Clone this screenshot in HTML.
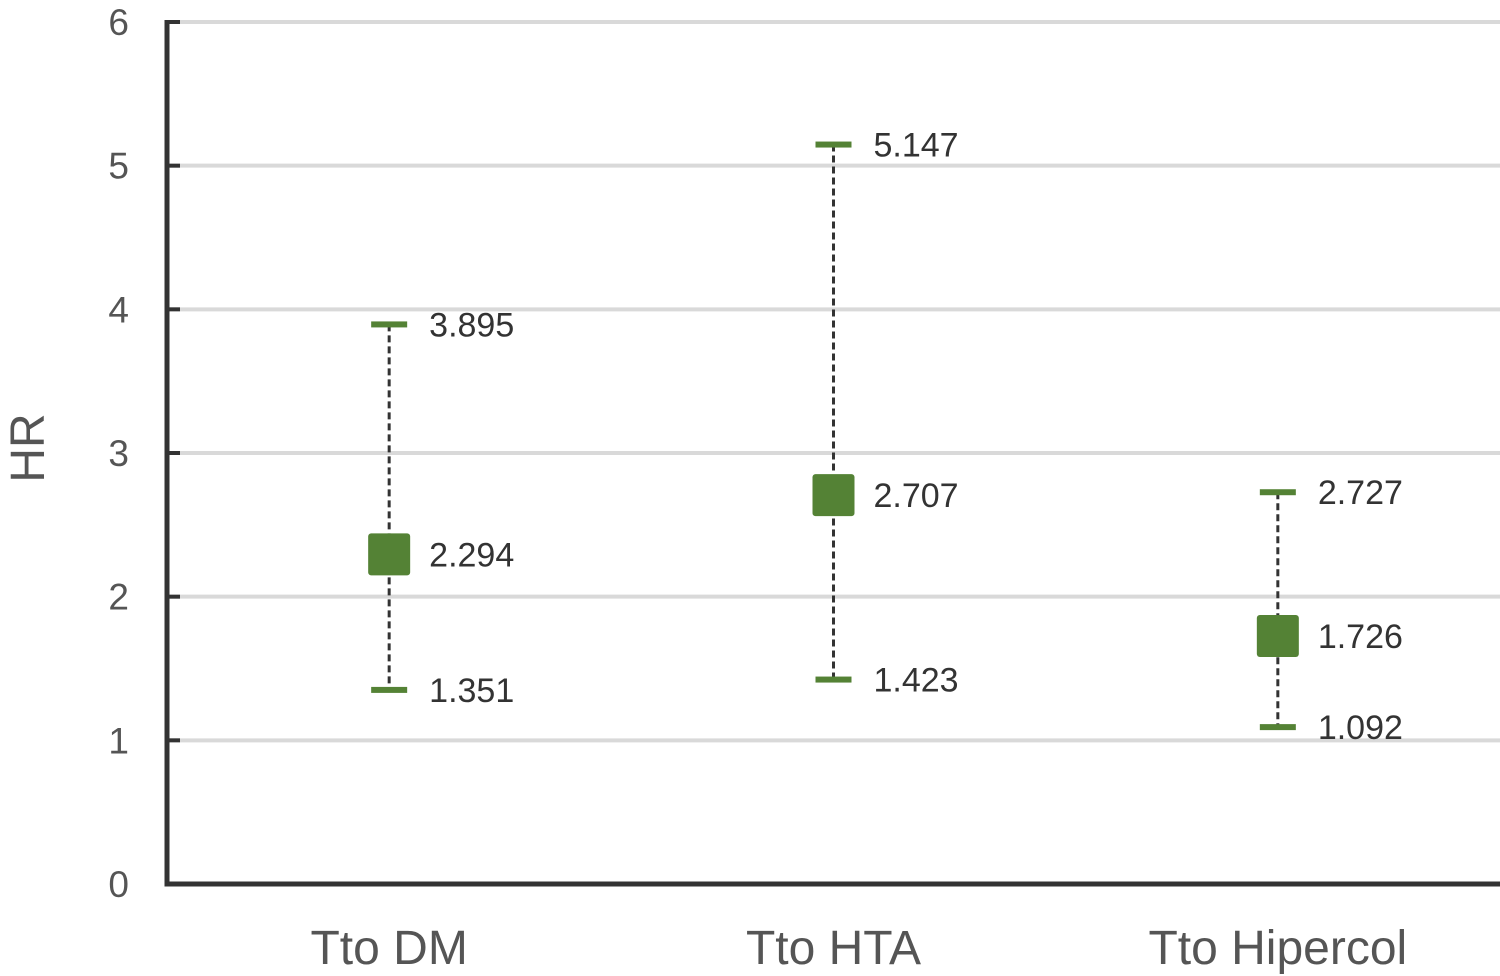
<!DOCTYPE html>
<html><head><meta charset="utf-8"><style>
body{margin:0;background:#fff;}
svg{display:block;font-family:"Liberation Sans",sans-serif;}
</style></head><body>
<svg id="chart" width="1500" height="976"></svg>
<script>
const categories=["Tto DM","Tto HTA","Tto Hipercol"];
const hrValues=[2.294,2.707,1.726];
const lowerCI=[1.351,1.423,1.092];
const upperCI=[3.895,5.147,2.727];
const yTicks=[0,1,2,3,4,5,6];
const NS="http://www.w3.org/2000/svg";
const svg=document.getElementById('chart');
const x0=167,x1=1500,yBot=884,yTop=22,yMax=6;
const y=v=>yBot-(v/yMax)*(yBot-yTop);
const bw=(x1-x0)/categories.length;
const xc=i=>x0+bw*(i+0.5);
function el(t,a,txt){const e=document.createElementNS(NS,t);for(const k in a)e.setAttribute(k,a[k]);if(txt!=null)e.textContent=txt;svg.appendChild(e);return e;}
yTicks.forEach(t=>{
  if(t>0){const g=el('line',{x1:x0,x2:x1,y1:y(t),y2:y(t),stroke:'#d9d9d9','stroke-width':4});
  
  }
  const tk=el('line',{x1:x0,x2:x0+13,y1:y(t),y2:y(t),stroke:'#333','stroke-width':4});
  
  
  const l=el('text',{x:129,y:y(t)+13,'text-anchor':'end','font-size':37,fill:'#555'},t);
  
  
});
const ax=el('path',{d:`M${x0},${yTop-2} V${yBot} H${x1}`,fill:'none',stroke:'#333','stroke-width':5});


const yt=el('text',{x:0,y:0,transform:'translate(44,448) rotate(-90)','text-anchor':'middle','font-size':48,fill:'#555'},'HR');


categories.forEach((c,i)=>{
  const cx=xc(i);
  const d=el('line',{x1:cx,x2:cx,y1:y(upperCI[i]),y2:y(lowerCI[i]),stroke:'#333','stroke-width':3,'stroke-dasharray':'7,4'});
  
  
  [upperCI[i],lowerCI[i]].forEach((v,j)=>{
    const cap=el('rect',{x:cx-18,y:y(v)-3,width:36,height:6,fill:'#548235'});
    
    
    const t=el('text',{x:cx+40,y:y(v)+12,'font-size':34,fill:'#333'},v.toFixed(3));
    
    
  });
  const m=el('rect',{x:cx-21,y:y(hrValues[i])-21,width:42,height:42,rx:3,fill:'#548235'});
  
  
  const ht=el('text',{x:cx+40,y:y(hrValues[i])+12,'font-size':34,fill:'#333'},hrValues[i].toFixed(3));
  
  
  const xl=el('text',{x:cx,y:964,'text-anchor':'middle','font-size':48,fill:'#555'},c);
  
  
});
</script>
</body></html>
